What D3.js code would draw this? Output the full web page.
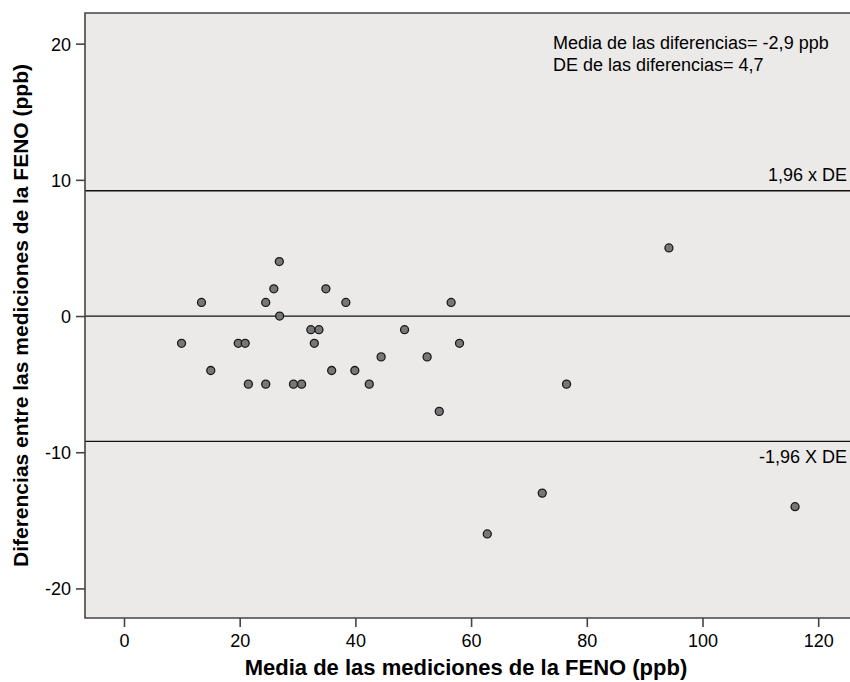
<!DOCTYPE html>
<html>
<head>
<meta charset="utf-8">
<script src="https://cdn.jsdelivr.net/npm/d3@7"></script>
<style>
    body { margin: 0; background: #fff; }
    svg text { font-family: "Liberation Sans", Arial, Helvetica, sans-serif; fill: #000; }
</style>
</head>
<body>
<svg id="chart" width="850" height="682"></svg>
<script>
// Bland-Altman data: mean of the two FENO measurements vs. their difference
const meanVals = [9.95, 13.4, 15.0, 19.75, 20.95, 21.5, 24.5, 24.5, 25.9, 26.85,
                  26.9, 29.3, 30.7, 32.3, 32.9, 33.7, 34.9, 35.9, 38.35, 39.9,
                  42.4, 44.45, 48.5, 52.4, 54.5, 56.55, 58.0, 62.8, 72.3, 76.5,
                  94.2, 116.0];
const diffVals = [-2, 1, -4, -2, -2, -5, 1, -5, 2, 4,
                  0, -5, -5, -1, -2, -1, 2, -4, 1, -4,
                  -5, -3, -1, -3, -7, 1, -2, -16, -13, -5,
                  5, -14];

const xTicks = [0, 20, 40, 60, 80, 100, 120];
const yTicks = [-20, -10, 0, 10, 20];

// reference lines: 0 and +/- 1,96 x DE (4,7)
const refLines = [9.2, 0, -9.2];
const refLabels = [
    { y: 9.2, text: '1,96 x DE', dy: -10 },
    { y: -9.2, text: '-1,96 X DE', dy: 22 }
];
const noteLines = ['Media de las diferencias= -2,9 ppb', 'DE de las diferencias= 4,7'];

const plotLeft = 85, plotRight = 850, plotTop = 13, plotBottom = 618;

const svg = d3.select('#chart');

const x = d3.scaleLinear().domain([-6.74, 125.5]).range([plotLeft, plotRight]);
const y = d3.scaleLinear().domain([-22.17, 22.25]).range([plotBottom, plotTop]);

// plot background
svg.append('rect')
    .attr('x', plotLeft)
    .attr('y', plotTop)
    .attr('width', plotRight - plotLeft)
    .attr('height', plotBottom - plotTop)
    .attr('fill', '#ebeae8');

// reference lines
svg.append('g')
    .selectAll('line')
    .data(refLines)
    .enter().append('line')
    .attr('x1', plotLeft)
    .attr('x2', plotRight)
    .attr('y1', d => y(d))
    .attr('y2', d => y(d))
    .attr('stroke', '#111')
    .attr('stroke-width', 1.3);

svg.append('g')
    .selectAll('text')
    .data(refLabels)
    .enter().append('text')
    .attr('x', 847)
    .attr('y', d => y(d.y) + d.dy)
    .attr('text-anchor', 'end')
    .style('font-size', '18px')
    .text(d => d.text);

// frame (left + bottom + top)
svg.append('path')
    .attr('d', `M${plotRight},${plotTop}H${plotLeft}V${plotBottom}H${plotRight}`)
    .attr('fill', 'none')
    .attr('stroke', '#444')
    .attr('stroke-width', 1.6);

// axes
const xAxis = svg.append('g')
    .attr('transform', `translate(0,${plotBottom})`)
    .call(d3.axisBottom(x).tickValues(xTicks).tickFormat(d => String(d)).tickSize(9).tickPadding(7));

const yAxis = svg.append('g')
    .attr('transform', `translate(${plotLeft},0)`)
    .call(d3.axisLeft(y).tickValues(yTicks).tickFormat(d => String(d)).tickSize(9).tickPadding(5));

[xAxis, yAxis].forEach(a => {
    a.select('.domain').remove();
    a.selectAll('.tick line').attr('stroke', '#444').attr('stroke-width', 1.6);
    a.selectAll('.tick text')
        .style('font-family', '"Liberation Sans", Arial, sans-serif')
        .style('font-size', '18px')
        .attr('fill', '#000');
});
yAxis.selectAll('.tick text').attr('dy', '0.36em');

// points
svg.append('g')
    .selectAll('circle')
    .data(meanVals.map((m, i) => ({ m, d: diffVals[i] })))
    .enter().append('circle')
    .attr('cx', d => x(d.m))
    .attr('cy', d => y(d.d))
    .attr('r', 4)
    .attr('fill', '#777')
    .attr('stroke', '#1a1a1a')
    .attr('stroke-width', 1.3);

// annotation
svg.append('g')
    .selectAll('text')
    .data(noteLines)
    .enter().append('text')
    .attr('x', 553)
    .attr('y', (d, i) => 49 + i * 21.5)
    .style('font-size', '18px')
    .text(d => d);

// axis titles
svg.append('text')
    .attr('x', 466)
    .attr('y', 675)
    .attr('text-anchor', 'middle')
    .style('font-size', '22px')
    .style('font-weight', 'bold')
    .text('Media de las mediciones de la FENO (ppb)');

svg.append('text')
    .attr('transform', `translate(28,${(plotTop + plotBottom) / 2}) rotate(-90)`)
    .attr('text-anchor', 'middle')
    .style('font-size', '21px')
    .style('font-weight', 'bold')
    .text('Diferencias entre las mediciones de la FENO (ppb)');
</script>
</body>
</html>
